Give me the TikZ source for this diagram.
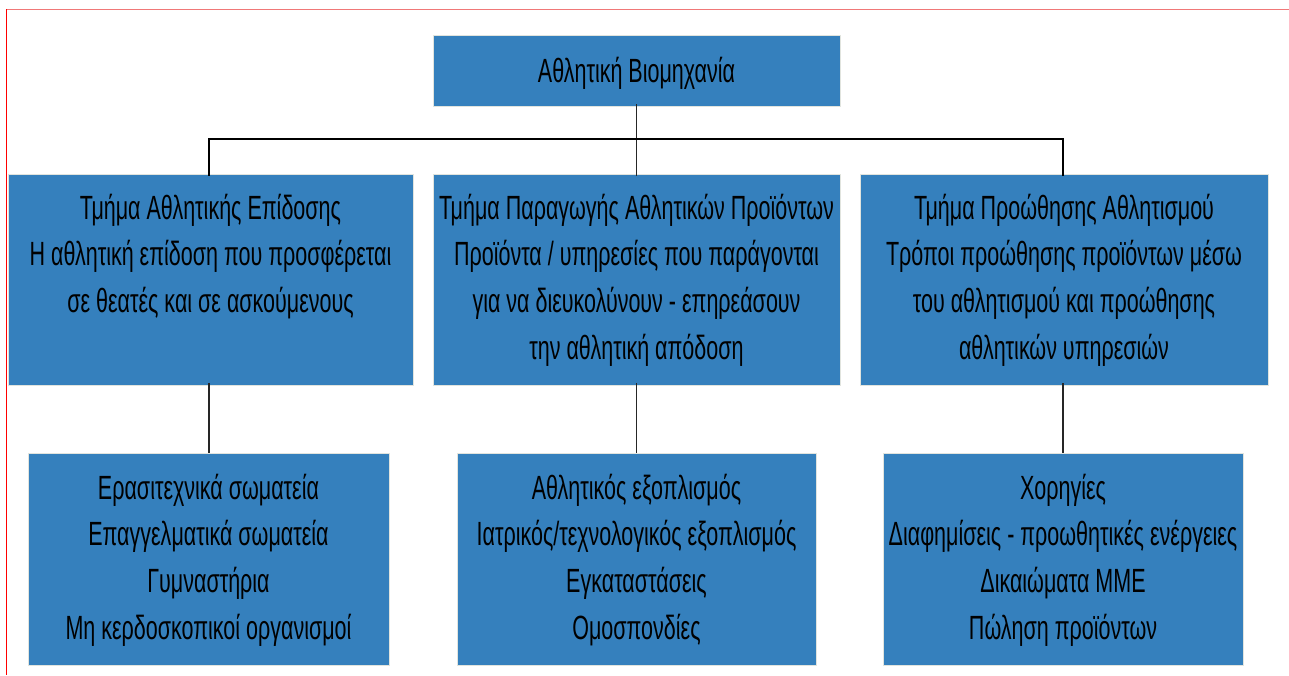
\documentclass[tikz,border=0pt]{standalone}
\usepackage{fontspec}
\setmainfont{Liberation Sans}[FakeStretch=0.64]
\definecolor{boxblue}{RGB}{53,128,189}
\definecolor{boxedge}{RGB}{225,228,222}
\definecolor{frametop}{RGB}{240,120,120}
\begin{document}
\begin{tikzpicture}[x=1pt,y=-1pt,
  box/.style={draw=boxedge, line width=0.8pt, fill=boxblue, inner sep=0pt},
  txt/.style={anchor=north, align=center, inner sep=0pt,
    font=\fontsize{33.6}{46.7}\selectfont},
  toptxt/.style={anchor=north, align=center, inner sep=0pt,
    font=\fontsize{33.6}{46.7}\selectfont},
  conn/.style={draw=black!85, line width=1.4pt},
  bus/.style={draw=black, line width=2pt}]
\useasboundingbox (0,0) rectangle (1289,675);
% screenshot frame edges
\draw[frametop, line width=1pt] (6,9.5) -- (1289,9.5);
\draw[red, line width=1.6pt] (6.5,9) -- (6.5,675);
% boxes
\node[box, minimum width=407, minimum height=71] (top) at (636.5,70.5) {};
\node[box, minimum width=405, minimum height=211] (l2a) at (210.5,279.5) {};
\node[box, minimum width=407, minimum height=211] (l2b) at (636.5,279.5) {};
\node[box, minimum width=408, minimum height=211] (l2c) at (1064,279.5) {};
\node[box, minimum width=361, minimum height=212] (l3a) at (208.5,559) {};
\node[box, minimum width=359, minimum height=212] (l3b) at (636.5,559) {};
\node[box, minimum width=360, minimum height=212] (l3c) at (1063,559) {};
% texts (baseline = north + 32)
\node[toptxt] (ttop) at (636.5,50) {\rule{0pt}{32pt}Αθλητική Βιομηχανία};
\node[txt] (t2a) at (210.5,187) {\rule{0pt}{32pt}Τμήμα Αθλητικής Επίδοσης\\Η αθλητική επίδοση που προσφέρεται\\σε θεατές και σε ασκούμενους};
\node[txt] (t2b) at (636.5,187) {\rule{0pt}{32pt}Τμήμα Παραγωγής Αθλητικών Προϊόντων\\Προϊόντα / υπηρεσίες που παράγονται\\για να διευκολύνουν - επηρεάσουν\\την αθλητική απόδοση};
\node[txt] (t2c) at (1064,187) {\rule{0pt}{32pt}Τμήμα Προώθησης Αθλητισμού\\Τρόποι προώθησης προϊόντων μέσω\\του αθλητισμού και προώθησης\\αθλητικών υπηρεσιών};
\node[txt] (t3a) at (208.5,467) {\rule{0pt}{32pt}Ερασιτεχνικά σωματεία\\Επαγγελματικά σωματεία\\Γυμναστήρια\\Μη κερδοσκοπικοί οργανισμοί};
\node[txt] (t3b) at (636.5,467) {\rule{0pt}{32pt}Αθλητικός εξοπλισμός\\Ιατρικός/τεχνολογικός εξοπλισμός\\Εγκαταστάσεις\\Ομοσπονδίες};
\node[txt] (t3c) at (1063,467) {\rule{0pt}{32pt}Χορηγίες\\Διαφημίσεις - προωθητικές ενέργειες\\Δικαιώματα ΜΜΕ\\Πώληση προϊόντων};
% connectors
\coordinate (busc) at (636.5,139);
\draw[conn] ([yshift=2pt]top.south) -- ([yshift=-2pt]l2b.north);
\draw[bus] ([xshift=-1.5pt,yshift=-2pt]l2a.north) |- (busc) -| ([xshift=-1pt,yshift=-2pt]l2c.north);
\draw[conn] ([xshift=-1.5pt,yshift=2pt]l2a.south) -- ([xshift=-1.5pt]l2a.south |- l3a.north);
\draw[conn] ([yshift=2pt]l2b.south) -- (l3b.north);
\draw[conn] ([xshift=-1pt,yshift=2pt]l2c.south) -- ([xshift=-1pt]l2c.south |- l3c.north);
\end{tikzpicture}
\end{document}
